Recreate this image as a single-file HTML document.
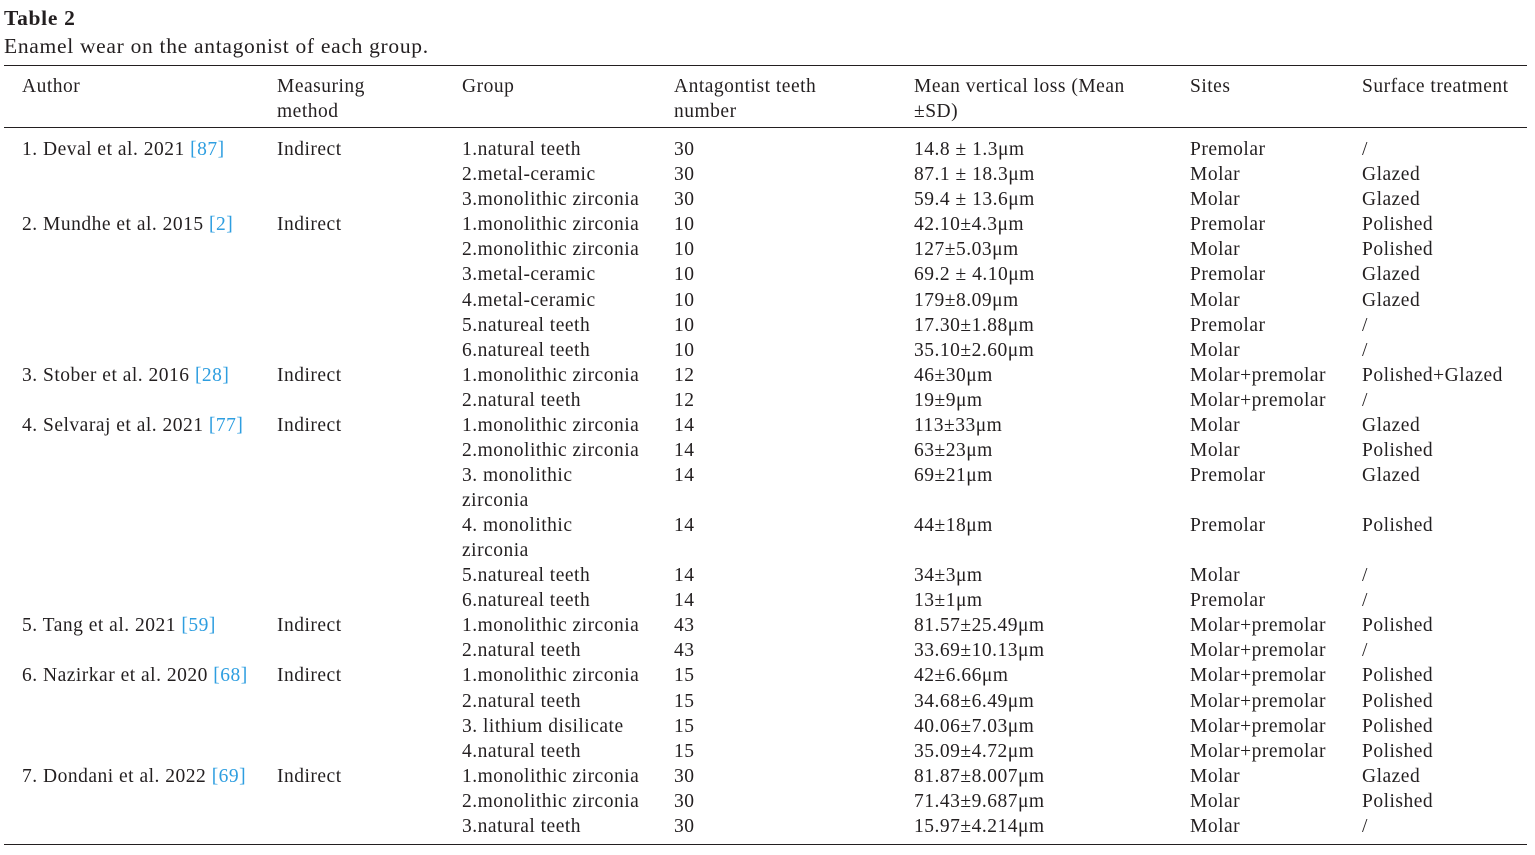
<!DOCTYPE html>
<html><head><meta charset="utf-8"><style>
body{margin:0;width:1535px;height:855px;background:#fff;position:relative;font-family:"Liberation Serif",serif;color:#231f20;overflow:hidden}
.t{position:absolute;left:4px;top:6px;font-size:21.5px;letter-spacing:0.7px;font-weight:bold}
.c{position:absolute;left:4px;top:34px;font-size:21.5px;letter-spacing:0.7px}
.r{position:absolute;left:4px;width:1523px;height:1px;background:#231f20}
table{position:absolute;left:4px;top:74px;width:1523px;border-collapse:collapse;table-layout:fixed;font-size:19.5px;letter-spacing:0.5px;line-height:25.07px}
td{padding:0;vertical-align:top;white-space:nowrap}
td:first-child{padding-left:18px}
thead td{height:50px}
tbody tr:first-child td{padding-top:13px}
a{color:#2e9ee0;text-decoration:none}
</style></head><body>
<div class="t">Table 2</div>
<div class="c">Enamel wear on the antagonist of each group.</div>
<div class="r" style="top:65px"></div>
<div class="r" style="top:127px"></div>
<div class="r" style="top:844px"></div>
<table>
<colgroup><col style="width:273px"><col style="width:185px"><col style="width:212px"><col style="width:240px"><col style="width:276px"><col style="width:172px"><col style="width:165px"></colgroup>
<thead><tr><td>Author</td><td>Measuring<br>method</td><td>Group</td><td>Antagontist teeth<br>number</td><td>Mean vertical loss (Mean<br>±SD)</td><td>Sites</td><td>Surface treatment</td></tr></thead>
<tbody>
<tr><td>1. Deval et al. 2021 <a>[87]</a></td><td>Indirect</td><td>1.natural teeth</td><td>30</td><td>14.8 ± 1.3μm</td><td>Premolar</td><td>/</td></tr>
<tr><td></td><td></td><td>2.metal-ceramic</td><td>30</td><td>87.1 ± 18.3μm</td><td>Molar</td><td>Glazed</td></tr>
<tr><td></td><td></td><td>3.monolithic zirconia</td><td>30</td><td>59.4 ± 13.6μm</td><td>Molar</td><td>Glazed</td></tr>
<tr><td>2. Mundhe et al. 2015 <a>[2]</a></td><td>Indirect</td><td>1.monolithic zirconia</td><td>10</td><td>42.10±4.3μm</td><td>Premolar</td><td>Polished</td></tr>
<tr><td></td><td></td><td>2.monolithic zirconia</td><td>10</td><td>127±5.03μm</td><td>Molar</td><td>Polished</td></tr>
<tr><td></td><td></td><td>3.metal-ceramic</td><td>10</td><td>69.2 ± 4.10μm</td><td>Premolar</td><td>Glazed</td></tr>
<tr><td></td><td></td><td>4.metal-ceramic</td><td>10</td><td>179±8.09μm</td><td>Molar</td><td>Glazed</td></tr>
<tr><td></td><td></td><td>5.natureal teeth</td><td>10</td><td>17.30±1.88μm</td><td>Premolar</td><td>/</td></tr>
<tr><td></td><td></td><td>6.natureal teeth</td><td>10</td><td>35.10±2.60μm</td><td>Molar</td><td>/</td></tr>
<tr><td>3. Stober et al. 2016 <a>[28]</a></td><td>Indirect</td><td>1.monolithic zirconia</td><td>12</td><td>46±30μm</td><td>Molar+premolar</td><td>Polished+Glazed</td></tr>
<tr><td></td><td></td><td>2.natural teeth</td><td>12</td><td>19±9μm</td><td>Molar+premolar</td><td>/</td></tr>
<tr><td>4. Selvaraj et al. 2021 <a>[77]</a></td><td>Indirect</td><td>1.monolithic zirconia</td><td>14</td><td>113±33μm</td><td>Molar</td><td>Glazed</td></tr>
<tr><td></td><td></td><td>2.monolithic zirconia</td><td>14</td><td>63±23μm</td><td>Molar</td><td>Polished</td></tr>
<tr><td></td><td></td><td>3. monolithic<br>zirconia</td><td>14</td><td>69±21μm</td><td>Premolar</td><td>Glazed</td></tr>
<tr><td></td><td></td><td>4. monolithic<br>zirconia</td><td>14</td><td>44±18μm</td><td>Premolar</td><td>Polished</td></tr>
<tr><td></td><td></td><td>5.natureal teeth</td><td>14</td><td>34±3μm</td><td>Molar</td><td>/</td></tr>
<tr><td></td><td></td><td>6.natureal teeth</td><td>14</td><td>13±1μm</td><td>Premolar</td><td>/</td></tr>
<tr><td>5. Tang et al. 2021 <a>[59]</a></td><td>Indirect</td><td>1.monolithic zirconia</td><td>43</td><td>81.57±25.49μm</td><td>Molar+premolar</td><td>Polished</td></tr>
<tr><td></td><td></td><td>2.natural teeth</td><td>43</td><td>33.69±10.13μm</td><td>Molar+premolar</td><td>/</td></tr>
<tr><td>6. Nazirkar et al. 2020 <a>[68]</a></td><td>Indirect</td><td>1.monolithic zirconia</td><td>15</td><td>42±6.66μm</td><td>Molar+premolar</td><td>Polished</td></tr>
<tr><td></td><td></td><td>2.natural teeth</td><td>15</td><td>34.68±6.49μm</td><td>Molar+premolar</td><td>Polished</td></tr>
<tr><td></td><td></td><td>3. lithium disilicate</td><td>15</td><td>40.06±7.03μm</td><td>Molar+premolar</td><td>Polished</td></tr>
<tr><td></td><td></td><td>4.natural teeth</td><td>15</td><td>35.09±4.72μm</td><td>Molar+premolar</td><td>Polished</td></tr>
<tr><td>7. Dondani et al. 2022 <a>[69]</a></td><td>Indirect</td><td>1.monolithic zirconia</td><td>30</td><td>81.87±8.007μm</td><td>Molar</td><td>Glazed</td></tr>
<tr><td></td><td></td><td>2.monolithic zirconia</td><td>30</td><td>71.43±9.687μm</td><td>Molar</td><td>Polished</td></tr>
<tr><td></td><td></td><td>3.natural teeth</td><td>30</td><td>15.97±4.214μm</td><td>Molar</td><td>/</td></tr>
</tbody></table>
</body></html>
